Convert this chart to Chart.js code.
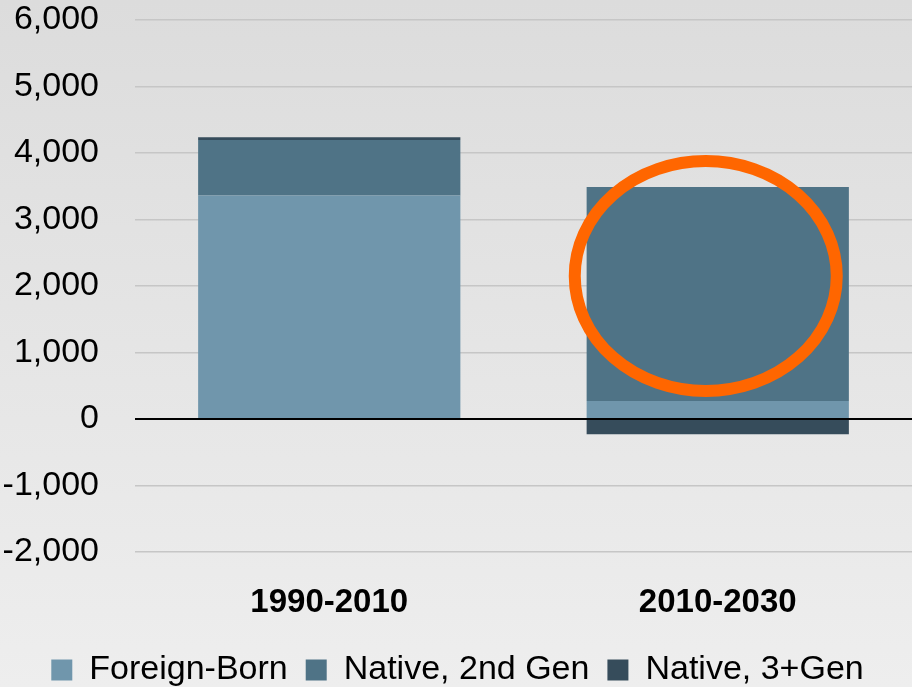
<!DOCTYPE html>
<html>
<head>
<meta charset="utf-8">
<script src="https://cdn.jsdelivr.net/npm/chart.js@4"></script>
<style>
  html, body { margin: 0; padding: 0; }
  body { width: 912px; height: 687px; overflow: hidden; }
  #wrap { width: 912px; height: 687px; }
</style>
</head>
<body>
<div id="wrap"><canvas id="genChart"></canvas></div>
<script>
// Data
const periods = ["1990-2010", "2010-2030"];
const foreignBorn = [3360, 270];
const native2nd = [835, 3220];
const native3plus = [40, -230];
const yTicks = [-2000, -1000, 0, 1000, 2000, 3000, 4000, 5000, 6000];

// soft grey background like the slide
const bgPlugin = {
  id: "bg",
  beforeDraw(chart) {
    const { ctx, width, height } = chart;
    const g = ctx.createLinearGradient(0, 0, 0, height);
    g.addColorStop(0, "#dcdcdc");
    g.addColorStop(1, "#eeeeee");
    ctx.save();
    ctx.fillStyle = g;
    ctx.fillRect(0, 0, width, height);
    ctx.restore();
  },
};

// orange circle highlighting the 2010-2030 bar
const circlePlugin = {
  id: "circle",
  afterDraw(chart) {
    const { ctx, scales } = chart;
    const cx = scales.x.getPixelForValue(1) - 12;
    const cy = scales.y.getPixelForValue(2150);
    ctx.save();
    ctx.beginPath();
    ctx.ellipse(cx, cy, 131, 115, 0, 0, Math.PI * 2);
    ctx.strokeStyle = "#ff6600";
    ctx.lineWidth = 12;
    ctx.stroke();
    ctx.restore();
  },
};

const ctx = document.getElementById("genChart").getContext("2d");
const genChart = new Chart(ctx, {
  type: "bar",
  data: {
    labels: periods,
    datasets: [
      { label: "Foreign-Born", data: foreignBorn, backgroundColor: "#7096ac" },
      { label: "Native, 2nd Gen", data: native2nd, backgroundColor: "#4f7386" },
      { label: "Native, 3+Gen", data: native3plus, backgroundColor: "#364c5b" },
    ],
  },
  options: {
    responsive: true,
    maintainAspectRatio: false,
    animation: false,
    layout: { padding: { top: 2, left: 3, right: 0, bottom: 0 } },
    datasets: {
      bar: { categoryPercentage: 1, barPercentage: 0.675 },
    },
    plugins: {
      legend: {
        position: "bottom",
        maxHeight: 52,
        labels: {
          boxWidth: 21,
          boxHeight: 21,
          padding: 18,
          color: "#000",
          font: { family: "Liberation Sans", size: 34 },
        },
      },
      tooltip: { enabled: false },
    },
    scales: {
      x: {
        stacked: true,
        grid: {
          display: true,
          drawOnChartArea: false,
          drawTicks: true,
          tickLength: 29,
          tickColor: "rgba(0,0,0,0)",
        },
        border: { display: false },
        ticks: {
          color: "#000",
          padding: 2,
          font: { family: "Liberation Sans", size: 33, weight: "bold" },
        },
        afterFit(axis) {
          axis.height = 83;
          axis.paddingLeft = 0;
          axis.paddingRight = 0;
        },
      },
      y: {
        stacked: true,
        min: -2000,
        max: 6000,
        afterBuildTicks(axis) {
          axis.ticks = yTicks.map((v) => ({ value: v }));
        },
        border: { display: false },
        grid: {
          drawTicks: true,
          tickLength: 34,
          tickColor: "rgba(0,0,0,0)",
          color: (c) => (c.tick && c.tick.value === 0 ? "#000" : "#c6c6c6"),
          lineWidth: (c) => (c.tick && c.tick.value === 0 ? 2 : 1.5),
        },
        ticks: {
          color: "#000",
          padding: 2,
          font: { family: "Liberation Sans", size: 34 },
          callback: (v) => v.toLocaleString("en-US"),
        },
        afterFit(axis) {
          axis.width = 132;
          axis.paddingTop = 20;
          axis.paddingBottom = 0;
        },
      },
    },
  },
  plugins: [bgPlugin, circlePlugin],
});
</script>
</body>
</html>
